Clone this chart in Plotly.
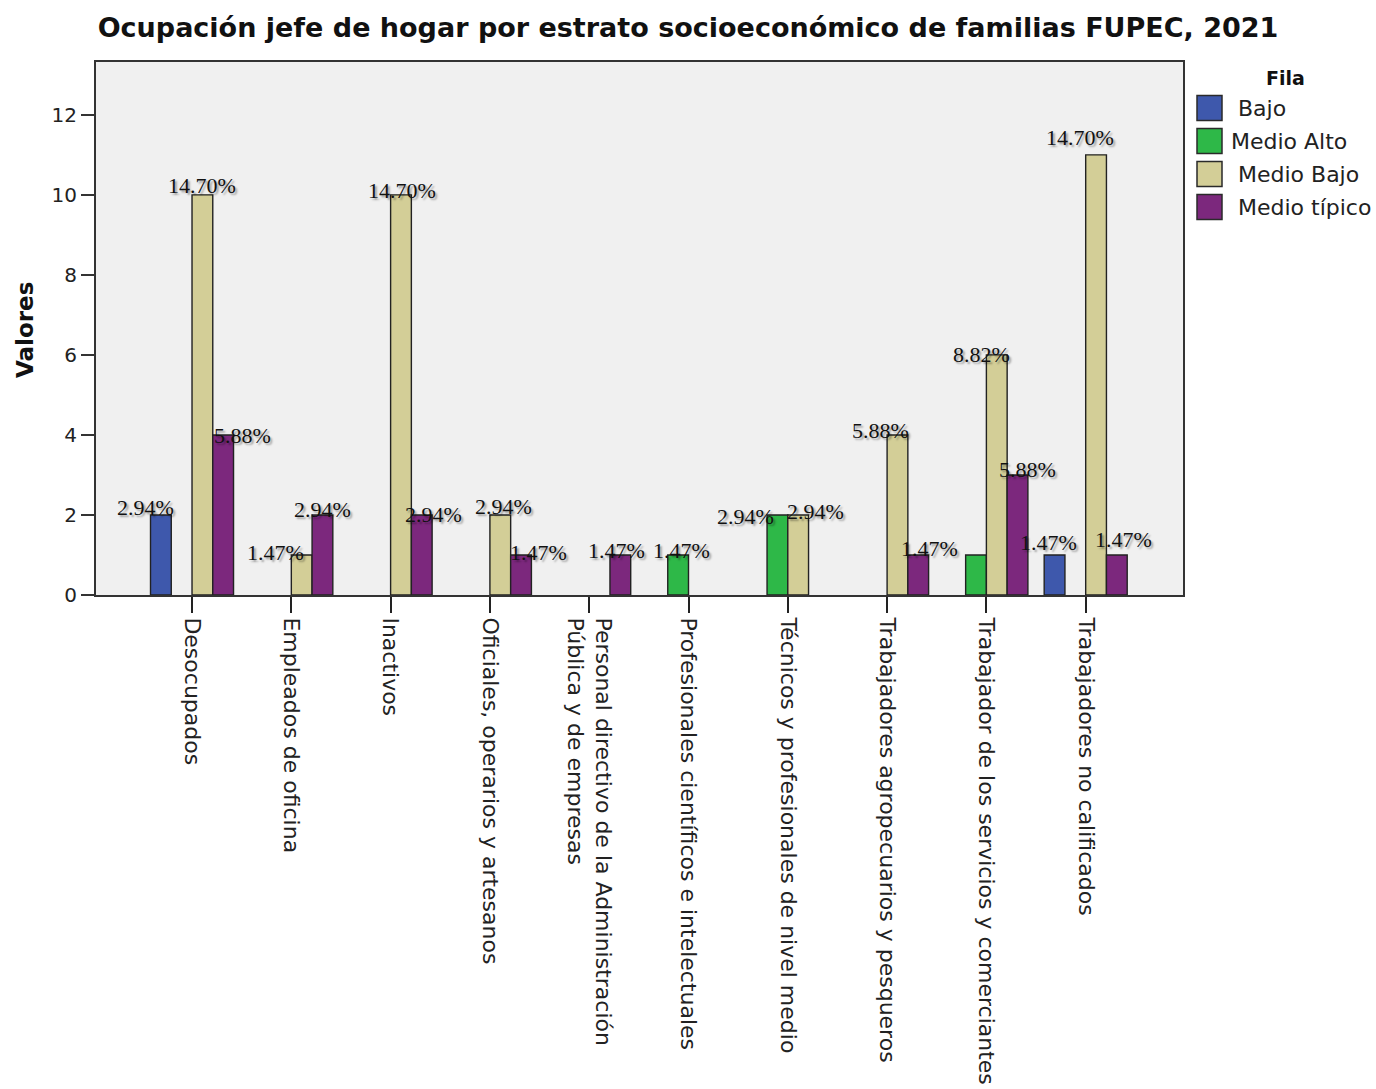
import plotly.graph_objects as go

# --- data -------------------------------------------------------------
categories = [
    "Desocupados",
    "Empleados de oficina",
    "Inactivos",
    "Oficiales, operarios y artesanos",
    "Personal directivo de la Administración<br>Pública y de empresas",
    "Profesionales científicos e intelectuales",
    "Técnicos y profesionales de nivel medio",
    "Trabajadores agropecuarios y pesqueros",
    "Trabajador de los servicios y comerciantes",
    "Trabajadores no calificados",
]

series_names = ["Bajo", "Medio Alto", "Medio Bajo", "Medio típico"]

bajo = [2, None, None, None, None, None, None, None, None, 1]
medio_alto = [None, None, None, None, None, 1, 2, None, 1, None]
medio_bajo = [10, 1, 10, 2, None, None, 2, 4, 6, 11]
medio_tipico = [4, 2, 2, 1, 1, None, None, 1, 3, 1]

bajo_pct = ["2.94%", None, None, None, None, None, None, None, None, "1.47%"]
medio_alto_pct = [None, None, None, None, None, "1.47%", "2.94%", None, None, None]
medio_bajo_pct = ["14.70%", "1.47%", "14.70%", "2.94%", None, None, "2.94%", "5.88%", "8.82%", "14.70%"]
medio_tipico_pct = ["5.88%", "2.94%", "2.94%", "1.47%", "1.47%", None, None, "1.47%", "5.88%", "1.47%"]

series_values = [bajo, medio_alto, medio_bajo, medio_tipico]
series_labels = [bajo_pct, medio_alto_pct, medio_bajo_pct, medio_tipico_pct]

# --- styling ----------------------------------------------------------
colors = ["#3E58AC", "#2EB848", "#D3CE97", "#7C287D"]
BARGAP = 0.164

# label nudges in pixels (dx right, dy down) relative to the bar top centre
label_nudge = [
    [(-15, -7), None, None, None, None, None, None, None, None, (-6, -12)],
    [None, None, None, None, None, (3, -4), (-32, 2), None, None, None],
    [(0, -9), (-26, -2), (1, -4), (3, -8), None, None, (17, -3), (-17, -4), (-15, 0), (-16, -17)],
    [(19, 1), (0, -5), (12, 0), (17, -2), (-4, -4), None, None, (11, -6), (10, -5), (7, -15)],
]

# plot-area geometry (pixels)
W, H = 1376, 1089
L, R, T, B = 96, 1183, 62, 595


def px_x(px):
    return (px - L) / (R - L)


def px_y(py):
    return (B - py) / (B - T)


fig = go.Figure()

for name, vals, col in zip(series_names, series_values, colors):
    fig.add_trace(go.Bar(
        name=name,
        x=list(range(len(categories))),
        y=vals,
        marker=dict(color=col, line=dict(color="#222222", width=1.4)),
        showlegend=False,
    ))

# percentage labels on top of the bars
n_series = len(series_names)
slot = (1 - BARGAP) / n_series
annotations = []
for k, (vals, labs, nudges) in enumerate(zip(series_values, series_labels, label_nudge)):
    for i, (v, lab, nd) in enumerate(zip(vals, labs, nudges)):
        if lab is None or v is None:
            continue
        dx, dy = nd
        annotations.append(dict(
            x=i + (k - (n_series - 1) / 2) * slot,
            y=v,
            xref="x", yref="y",
            text=lab,
            showarrow=False,
            xanchor="center", yanchor="middle",
            xshift=dx, yshift=-dy,
            font=dict(family="Liberation Serif", size=22, color="#111111",
                      shadow="2px 2px 2px rgba(0,0,0,0.35)"),
        ))

# y-axis title
annotations.append(dict(
    x=px_x(25), y=px_y(330), xref="paper", yref="paper",
    text="<b>Valores</b>", textangle=-90, showarrow=False,
    xanchor="center", yanchor="middle",
    font=dict(family="DejaVu Sans", size=23, color="#111111"),
))

# legend (title, swatches, names)
annotations.append(dict(
    x=px_x(1285), y=px_y(78), xref="paper", yref="paper",
    text="<b>Fila</b>", showarrow=False, xanchor="center", yanchor="middle",
    font=dict(family="DejaVu Sans", size=19, color="#111111"),
))
legend_row_y = [108, 141, 174, 207]
legend_text_x = [1236, 1229, 1236, 1236]
shapes = []
for name, col, ry, tx in zip(series_names, colors, legend_row_y, legend_text_x):
    shapes.append(dict(
        type="rect", xref="paper", yref="paper",
        x0=px_x(1197), x1=px_x(1222), y0=px_y(ry - 12.5), y1=px_y(ry + 12.5),
        fillcolor=col, line=dict(color="#2a2a2a", width=1.5),
    ))
    annotations.append(dict(
        x=px_x(tx), y=px_y(ry), xref="paper", yref="paper",
        text=name, showarrow=False, xanchor="left", yanchor="middle",
        font=dict(family="DejaVu Sans", size=22, color="#222222"),
    ))

fig.update_layout(
    width=W, height=H,
    margin=dict(l=L, r=W - R, t=T, b=H - B, autoexpand=False),
    paper_bgcolor="white",
    plot_bgcolor="#F0F0F0",
    barmode="group",
    bargap=BARGAP,
    bargroupgap=0.0,
    title=dict(
        text="<b>Ocupación jefe de hogar por estrato socioeconómico de familias FUPEC, 2021</b>",
        x=0.5, xref="container", xanchor="center",
        y=1 - 28 / H, yref="container", yanchor="middle",
        font=dict(family="DejaVu Sans", size=27, color="#111111"),
    ),
    annotations=annotations,
    shapes=shapes,
    font=dict(family="DejaVu Sans", color="#222222"),
)

fig.update_xaxes(
    tickmode="array",
    tickvals=list(range(len(categories))),
    ticktext=categories,
    range=[-0.967, 9.98],
    tickangle=90,
    ticks="outside", ticklen=16, tickwidth=2, tickcolor="#222222",
    tickfont=dict(family="DejaVu Sans", size=22, color="#222222"),
    showline=True, linecolor="#333333", linewidth=2, mirror=True,
    showgrid=False, zeroline=False,
    automargin=False,
)

fig.update_yaxes(
    range=[0, 13.32],
    tickmode="array",
    tickvals=[0, 2, 4, 6, 8, 10, 12],
    ticks="outside", ticklen=13, tickwidth=2, tickcolor="#333333",
    tickfont=dict(family="DejaVu Sans", size=20, color="#222222"),
    showline=True, linecolor="#333333", linewidth=2, mirror=True,
    showgrid=False, zeroline=False,
    automargin=False,
)

fig.write_html("out.html")
